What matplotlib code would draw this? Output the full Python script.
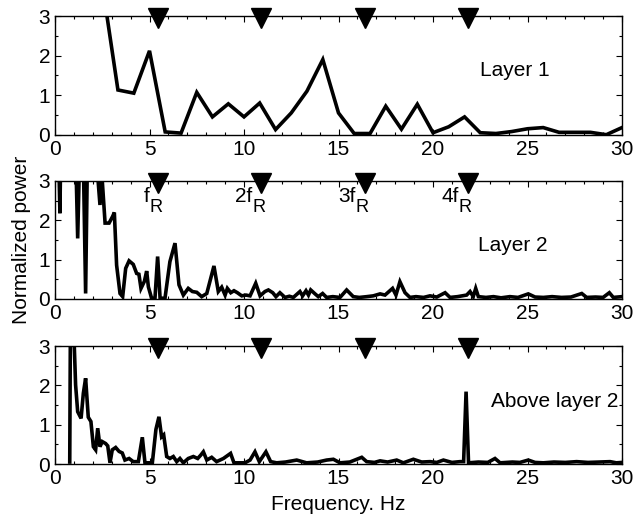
import matplotlib
matplotlib.use("Agg")
import matplotlib.pyplot as plt
from matplotlib.ticker import MultipleLocator

plt.rcParams['font.family'] = ['Liberation Sans', 'DejaVu Sans']

# ---- data ----
# Layer 1 (coarse spectrum)
f1 = [0.0, 0.83, 1.67, 2.5, 3.33, 4.17, 5.0, 5.83, 6.67, 7.5, 8.33, 9.17, 10.0,
      10.83, 11.67, 12.5, 13.33, 14.17, 15.0, 15.83, 16.67, 17.5, 18.33, 19.17,
      20.0, 20.83, 21.67, 22.5, 23.33, 24.17, 25.0, 25.83, 26.67, 27.5, 28.33,
      29.17, 30.0]
p1 = [8.0, 12.0, 9.0, 3.8, 1.13, 1.05, 2.12, 0.07, 0.04, 1.07, 0.45, 0.78, 0.45,
      0.8, 0.13, 0.55, 1.1, 1.9, 0.55, 0.03, 0.03, 0.72, 0.14, 0.77,
      0.05, 0.2, 0.45, 0.05, 0.03, 0.08, 0.15, 0.18, 0.06, 0.06, 0.06,
      0.0, 0.18]

# Layer 2
f2 = [0.0, 0.18, 0.26, 0.34, 0.6, 0.9, 1.08, 1.2, 1.32, 1.5, 1.62, 1.74, 1.95,
      2.2, 2.38, 2.46, 2.65, 2.86, 3.05, 3.14, 3.26, 3.44, 3.58, 3.74, 3.92,
      4.14, 4.32, 4.44, 4.55, 4.73, 4.85, 4.94, 5.11, 5.29, 5.43, 5.56, 5.82,
      6.08, 6.35, 6.56, 6.79, 7.05, 7.27, 7.5, 7.76, 8.03, 8.41, 8.64, 8.82,
      9.0, 9.12, 9.3, 9.47, 9.65, 9.88, 10.1, 10.32, 10.62, 10.85, 11.11, 11.29,
      11.52, 11.69, 11.9, 12.17, 12.4, 12.61, 12.96, 13.1, 13.28, 13.41, 13.53,
      13.76, 13.93, 14.16, 14.37, 14.7, 15.08, 15.43, 15.78, 16.1, 16.5, 16.84,
      17.2, 17.46, 17.86, 18.04, 18.25, 18.52, 18.78, 19.1, 19.5, 19.84, 20.2,
      20.64, 20.9, 21.3, 21.78, 21.96, 22.13, 22.26, 22.4, 22.8, 23.2, 23.6,
      24.07, 24.5, 25.04, 25.4, 25.84, 26.3, 26.8, 27.3, 27.87, 28.13, 28.6,
      29.0, 29.33, 29.54, 30.0]
p2 = [4.5, 4.0, 2.18, 5.0, 6.0, 4.5, 4.0, 1.54, 4.0, 3.5, 0.14, 4.5, 5.0,
      3.5, 2.39, 3.3, 1.93, 1.93, 2.1, 2.2, 0.86, 0.14, 0.06, 0.78, 0.97,
      0.88, 0.65, 0.63, 0.27, 0.45, 0.71, 0.31, 0.02, 0.02, 1.08, 0.02, 0.02,
      0.95, 1.42, 0.36, 0.1, 0.27, 0.19, 0.17, 0.06, 0.14, 0.84, 0.19, 0.3,
      0.1, 0.27, 0.16, 0.21, 0.16, 0.08, 0.1, 0.08, 0.4, 0.08, 0.19, 0.23,
      0.16, 0.06, 0.16, 0.04, 0.07, 0.04, 0.19, 0.08, 0.21, 0.1, 0.23,
      0.13, 0.06, 0.14, 0.04, 0.06, 0.04, 0.23, 0.06, 0.04, 0.06, 0.08,
      0.13, 0.1, 0.27, 0.1, 0.44, 0.16, 0.04, 0.06, 0.04, 0.08, 0.05,
      0.16, 0.04, 0.06, 0.1, 0.19, 0.06, 0.27, 0.06, 0.04, 0.06, 0.03,
      0.06, 0.04, 0.13, 0.05, 0.04, 0.06, 0.04, 0.05, 0.14, 0.04, 0.05,
      0.04, 0.16, 0.04, 0.06]

# Above layer 2
f3 = [0.78, 0.84, 0.95, 1.09, 1.2, 1.38, 1.5, 1.62, 1.76, 1.9, 2.03, 2.15,
      2.26, 2.38, 2.5, 2.68, 2.79, 2.91, 3.03, 3.21, 3.39, 3.56, 3.7, 3.92,
      4.14, 4.41, 4.62, 4.76, 5.15, 5.34, 5.5, 5.64, 5.75, 5.91, 6.08, 6.26,
      6.44, 6.61, 6.79, 7.05, 7.32, 7.55, 7.72, 7.85, 8.03, 8.29, 8.55, 8.91,
      9.29, 9.47, 10.05, 10.32, 10.58, 10.81, 11.16, 11.41, 11.73, 12.2, 12.79,
      13.31, 13.9, 14.37, 14.73, 15.08, 15.6, 16.23, 16.49, 16.9, 17.2, 17.6,
      18.08, 18.43, 18.96, 19.4, 19.84, 20.2, 20.55, 21.0, 21.43, 21.62, 21.75,
      21.88, 22.4, 22.9, 23.28, 23.55, 24.2, 24.6, 25.04, 25.4, 25.84, 26.4,
      27.0, 27.6, 28.2, 28.8, 29.37, 29.7, 30.0]
p3 = [0.05, 6.0, 4.0, 2.01, 1.33, 1.16, 1.8, 2.18, 1.19, 1.08, 0.44, 0.36,
      0.91, 0.44, 0.57, 0.52, 0.46, 0.03, 0.36, 0.42, 0.32, 0.28, 0.1, 0.14,
      0.06, 0.06, 0.68, 0.03, 0.03, 0.88, 1.2, 0.69, 0.74, 0.19, 0.14, 0.19,
      0.06, 0.14, 0.03, 0.14, 0.19, 0.14, 0.23, 0.31, 0.1, 0.17, 0.06, 0.14,
      0.27, 0.03, 0.03, 0.1, 0.31, 0.06, 0.31, 0.06, 0.03, 0.05, 0.1,
      0.03, 0.05, 0.1, 0.12, 0.03, 0.05, 0.17, 0.06, 0.04, 0.08, 0.05,
      0.1, 0.03, 0.12, 0.05, 0.06, 0.04, 0.1, 0.04, 0.06, 0.06, 1.84,
      0.03, 0.05, 0.04, 0.14, 0.03, 0.05, 0.04, 0.1, 0.04, 0.03, 0.05,
      0.04, 0.06, 0.04, 0.05, 0.06, 0.03, 0.04]

harmonics = [5.46, 10.92, 16.38, 21.84]
harm_main = ['f', '2f', '3f', '4f']
harm_sub = 'R'
panel_labels = ['Layer 1', 'Layer 2', 'Above layer 2']
label_pos = [(22.5, 1.63), (22.4, 1.37), (23.05, 1.6)]
xticks = [0, 5, 10, 15, 20, 25, 30]
yticks = [0, 1, 2, 3]

fig = plt.figure(figsize=(6.36, 5.17), dpi=100)
W, H = 636, 517
left = 55 / W
width = 567 / W
panels = [(16, 134.7), (181, 299), (346, 464)]
series = [(f1, p1), (f2, p2), (f3, p3)]
FS = 15

for i, ((top, bot), (fx, py)) in enumerate(zip(panels, series)):
    ax = fig.add_axes([left, 1 - bot / H, width, (bot - top) / H])
    ax.plot(fx, py, color='black', lw=2.6, solid_joinstyle='miter')
    ax.set_xlim(0, 30)
    ax.set_ylim(0, 3)
    ax.set_xticks(xticks)
    ax.set_yticks(yticks)
    ax.xaxis.set_minor_locator(MultipleLocator(1))
    ax.yaxis.set_minor_locator(MultipleLocator(0.5))
    ax.tick_params(which='both', direction='in', top=True, right=True,
                   labelsize=FS, width=0.8)
    ax.tick_params(which='major', length=4.5, pad=3.5)
    ax.tick_params(which='minor', length=2.5)
    for s in ax.spines.values():
        s.set_linewidth(1.0)
    ax.plot(harmonics, [2.94] * len(harmonics), linestyle='none', marker='v',
            markersize=14, color='black', clip_on=False, zorder=5)
    lx, ly = label_pos[i]
    ax.text(lx, ly, panel_labels[i], fontsize=FS, ha='left', va='center')
    if i == 1:
        for h, lab in zip(harmonics, harm_main):
            ax.text(h - 0.47, 2.47, lab, fontsize=FS, ha='right', va='baseline')
            ax.text(h - 0.47, 2.21, harm_sub, fontsize=FS * 0.87, ha='left',
                    va='baseline')
        ax.set_ylabel('Normalized power', fontsize=FS, labelpad=5)
    if i == 2:
        ax.set_xlabel('Frequency. Hz', fontsize=FS, labelpad=5)

fig.savefig('out.png', dpi=100)
